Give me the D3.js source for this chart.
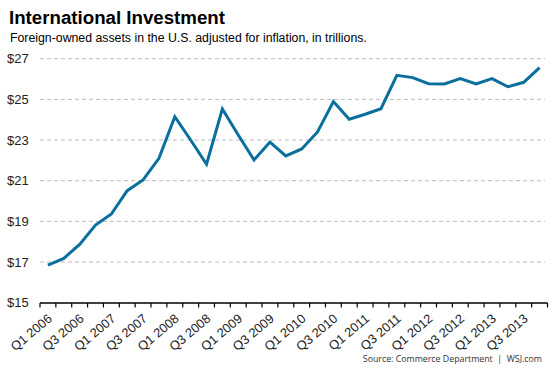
<!DOCTYPE html>
<meta charset="utf-8">
<style>
body { margin: 0; background: #fff; }
text { font-family: "Liberation Sans", Arial, sans-serif; }
.grid line { stroke: #bdbdbd; stroke-dasharray: 4,3; }
</style>
<body>
<svg width="553" height="369"></svg>
<script src="https://d3js.org/d3.v7.min.js"></script>
<script>
var svg = d3.select("svg"),
    width = +svg.attr("width"),
    height = +svg.attr("height");

// quarters, Q1 2006 .. Q4 2013
var quarters = [];
[2006, 2007, 2008, 2009, 2010, 2011, 2012, 2013].forEach(function(y) {
  ["Q1", "Q2", "Q3", "Q4"].forEach(function(q) { quarters.push(q + " " + y); });
});

// foreign-owned assets, trillions
var assets = [16.85, 17.18, 17.87, 18.82, 19.36, 20.51, 21.04, 22.10,
              24.15, 23.00, 21.81, 24.53, 23.25, 22.02, 22.90, 22.22,
              22.56, 23.40, 24.89, 24.02, 24.27, 24.54, 26.18, 26.07,
              25.77, 25.76, 26.02, 25.76, 26.02, 25.62, 25.84, 26.56];

var yTicks = [15, 17, 19, 21, 23, 25, 27];

var x = d3.scaleBand().domain(quarters).range([40, 547.5]);
var y = d3.scaleLinear().domain([15, 27]).range([302.7, 58.7]);

// title
svg.append("text")
    .attr("x", 9).attr("y", 24)
    .style("font-size", "18.7px").style("font-weight", "bold")
    .text("International Investment");
svg.append("text")
    .attr("x", 10).attr("y", 42)
    .style("font-size", "12.3px")
    .text("Foreign-owned assets in the U.S. adjusted for inflation, in trillions.");

// grid
svg.append("g").attr("class", "grid")
  .selectAll("line")
  .data(yTicks.slice(1))
  .enter().append("line")
    .attr("x1", 40).attr("x2", 545)
    .attr("y1", function(d) { return y(d); })
    .attr("y2", function(d) { return y(d); });

// y labels
svg.append("g").selectAll("text")
  .data(yTicks)
  .enter().append("text")
    .attr("x", 7)
    .attr("y", function(d) { return y(d); })
    .attr("dy", "0.35em")
    .style("font-size", "13px")
    .style("fill", "#222")
    .text(function(d) { return "$" + d; });

// x axis
var xAxis = svg.append("g").attr("transform", "translate(0,303)");
xAxis.append("line")
    .attr("x1", 40).attr("x2", 547.5)
    .style("stroke", "#000").style("stroke-width", 1.6);
var edges = quarters.map(function(q) { return x(q); }).concat([x.range()[1]]);
xAxis.selectAll(".tk")
  .data(edges)
  .enter().append("line")
    .attr("class", "tk")
    .attr("x1", function(d) { return d; }).attr("x2", function(d) { return d; })
    .attr("y1", 0).attr("y2", 4.5)
    .style("stroke", "#000").style("stroke-width", 1.2);
xAxis.selectAll("text")
  .data(quarters.filter(function(d, i) { return i % 2 === 0; }))
  .enter().append("text")
    .attr("text-anchor", "end")
    .attr("transform", function(d) {
      return "translate(" + (x(d) + x.bandwidth() / 2 + 5) + ",17) rotate(-40)";
    })
    .style("font-size", "12.8px")
    .style("fill", "#222")
    .text(function(d) { return d; });

// line
var line = d3.line()
    .x(function(d, i) { return x(quarters[i]) + x.bandwidth() / 2; })
    .y(function(d) { return y(d); });

svg.append("path")
    .datum(assets)
    .attr("d", line)
    .style("fill", "none")
    .style("stroke", "#0a6f9d")
    .style("stroke-width", 3)
    .style("stroke-linejoin", "miter");

// source
svg.append("text")
    .attr("x", 542).attr("y", 362)
    .attr("text-anchor", "end")
    .style("font-family", "'Open Sans', sans-serif")
    .style("font-size", "8.8px")
    .style("fill", "#333")
    .style("white-space", "pre")
    .text("Source: Commerce Department  |  WSJ.com");
</script>
</body>
